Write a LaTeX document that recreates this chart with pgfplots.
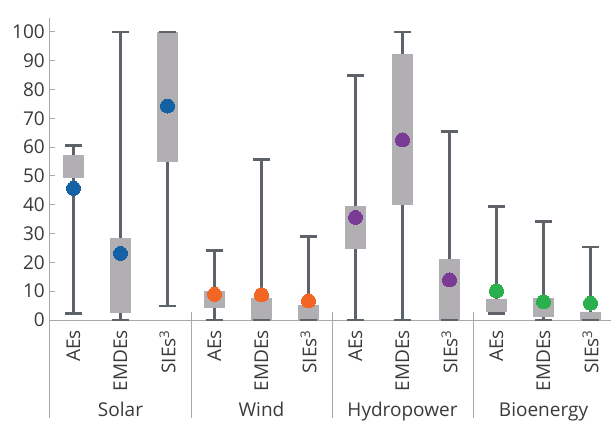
\documentclass[border=0pt]{standalone}
\usepackage{pgfplots}
\pgfplotsset{compat=1.18}
\usepackage{pgfplotstable}
\usepackage{fontspec}
\setmainfont{Open Sans}

\definecolor{boxgray}{HTML}{B1AFB2}
\definecolor{whisk}{HTML}{5E6369}
\definecolor{axgray}{HTML}{A8A8A8}
\definecolor{txt}{HTML}{3A3A3A}
\definecolor{cblue}{HTML}{1561A6}
\definecolor{corange}{HTML}{F26522}
\definecolor{cpurple}{HTML}{7A3B97}
\definecolor{cgreen}{HTML}{2AB04C}

\pgfplotstableread{
x lo q1 q3 hi mean
0 2.3 49.4 57.2 60.6 45.7
1 0 2.5 28.5 100 23.1
2 4.9 55 100 100 74.3
3 0 4.3 10.1 24.1 8.9
4 0 0 7.6 55.8 8.7
5 0 0 5.2 29.0 6.6
6 0 24.5 39.5 84.8 35.6
7 0 40.0 92.4 100 62.5
8 0 0 21.2 65.4 13.9
9 2.3 2.9 7.3 39.5 10.1
10 0 1.2 7.6 34.3 6.3
11 0 0 2.8 25.3 5.8
}\data

\newcommand{\lblfont}{\fontsize{19}{23}\selectfont}
\tikzset{catlbl/.style={rotate=90, anchor=east, inner sep=0pt, font=\lblfont, text=txt},
         grplbl/.style={anchor=base, inner sep=0pt, font=\lblfont, text=txt},
         sep/.style={axgray, line width=1pt}}

\begin{document}
\begin{tikzpicture}
\begin{axis}[
  scale only axis,
  width=561pt, height=302pt,
  xmin=-0.5, xmax=11.436,
  ymin=0, ymax=104.86,
  clip=false,
  axis x line*=bottom, axis y line*=left,
  axis line style={axgray, line width=1pt},
  xtick=\empty,
  minor xtick={0.5,1.5,...,10.5},
  ytick={0,10,...,100},
  tick align=inside,
  major tick length=5pt,
  minor tick length=8pt,
  tick style={axgray, line width=1pt},
  yticklabel style={anchor=east, inner sep=0pt, font=\lblfont, text=txt},
  yticklabel shift=5pt,
  /pgf/number format/assume math mode=true,
]
% whiskers
\addplot[draw=none, no markers, forget plot,
  error bars/.cd, y dir=both, y explicit, error mark=none,
  error bar style={draw=whisk, line width=2.7pt}]
  table[x=x, y expr={(\thisrow{lo}+\thisrow{hi})/2},
        y error expr={(\thisrow{hi}-\thisrow{lo})/2}] {\data};
% boxes
\addplot[draw=none, no markers, forget plot,
  error bars/.cd, y dir=both, y explicit, error mark=none,
  error bar style={draw=boxgray, line width=21.5pt}]
  table[x=x, y expr={(\thisrow{q1}+\thisrow{q3})/2},
        y error expr={(\thisrow{q3}-\thisrow{q1})/2}] {\data};
% caps
\addplot[whisk, only marks, mark=-, mark size=8.5pt, mark options={solid, draw=whisk, line width=2.7pt}]
  table[x=x, y=hi] {\data};
\addplot[whisk, only marks, mark=-, mark size=8.5pt, mark options={solid, draw=whisk, line width=2.7pt}]
  table[x=x, y=lo] {\data};
% dots
\addplot[cblue, only marks, mark=*, mark size=7pt, mark options={solid, draw=cblue, fill=cblue, line width=0pt},
  restrict x to domain=-0.5:2.5] table[x=x, y=mean] {\data};
\addplot[corange, only marks, mark=*, mark size=7pt, mark options={solid, draw=corange, fill=corange, line width=0pt},
  restrict x to domain=2.5:5.5] table[x=x, y=mean] {\data};
\addplot[cpurple, only marks, mark=*, mark size=7pt, mark options={solid, draw=cpurple, fill=cpurple, line width=0pt},
  restrict x to domain=5.5:8.5] table[x=x, y=mean] {\data};
\addplot[cgreen, only marks, mark=*, mark size=7pt, mark options={solid, draw=cgreen, fill=cgreen, line width=0pt},
  restrict x to domain=8.5:11.5] table[x=x, y=mean] {\data};

% separators
\draw[sep] ([yshift=8pt]axis cs:-0.5,0) -- ([yshift=-98pt]axis cs:-0.5,0);
\draw[sep] ([yshift=8pt]axis cs:2.5,0) -- ([yshift=-98pt]axis cs:2.5,0);
\draw[sep] ([yshift=8pt]axis cs:5.5,0) -- ([yshift=-98pt]axis cs:5.5,0);
\draw[sep] ([yshift=8pt]axis cs:8.5,0) -- ([yshift=-98pt]axis cs:8.5,0);
% category labels
\node[catlbl] at ([yshift=-10pt]axis cs:0,0) {AEs};
\node[catlbl] at ([yshift=-10pt]axis cs:1,0) {EMDEs};
\node[catlbl] at ([yshift=-10pt]axis cs:2,0) {SIEs\textsuperscript{3}};
\node[catlbl] at ([yshift=-10pt]axis cs:3,0) {AEs};
\node[catlbl] at ([yshift=-10pt]axis cs:4,0) {EMDEs};
\node[catlbl] at ([yshift=-10pt]axis cs:5,0) {SIEs\textsuperscript{3}};
\node[catlbl] at ([yshift=-10pt]axis cs:6,0) {AEs};
\node[catlbl] at ([yshift=-10pt]axis cs:7,0) {EMDEs};
\node[catlbl] at ([yshift=-10pt]axis cs:8,0) {SIEs\textsuperscript{3}};
\node[catlbl] at ([yshift=-10pt]axis cs:9,0) {AEs};
\node[catlbl] at ([yshift=-10pt]axis cs:10,0) {EMDEs};
\node[catlbl] at ([yshift=-10pt]axis cs:11,0) {SIEs\textsuperscript{3}};
% group labels
\node[grplbl] at ([yshift=-96pt]axis cs:1,0) {Solar};
\node[grplbl] at ([yshift=-96pt]axis cs:4,0) {Wind};
\node[grplbl] at ([yshift=-96pt]axis cs:7,0) {Hydropower};
\node[grplbl] at ([yshift=-96pt]axis cs:10,0) {Bioenergy};

\coordinate (ll) at (rel axis cs:0,0);
\coordinate (ur) at (rel axis cs:1,1);
\end{axis}
\pgfresetboundingbox
\path[use as bounding box] ([xshift=-50pt,yshift=-103pt]ll) rectangle ([yshift=18pt]ur);
\end{tikzpicture}
\end{document}
